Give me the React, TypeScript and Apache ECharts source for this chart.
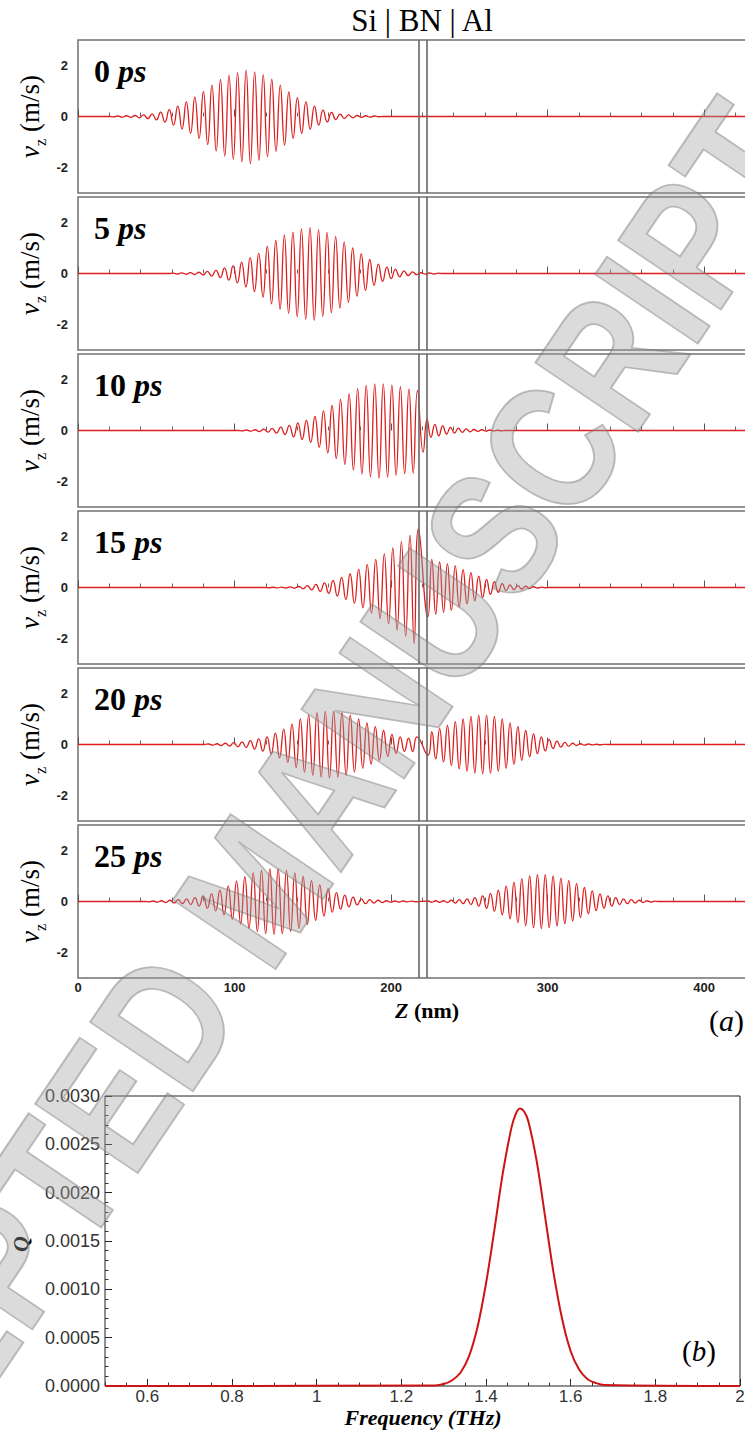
import React, { useEffect, useRef } from 'react';
import * as echarts from 'echarts';

// ---------- data ----------
const Z_MAX = 428; // nm, right edge of panels (a)
const INTERFACES = [217.8, 222.5]; // Si|BN and BN|Al interfaces (nm)
const TIMES = ['0', '5', '10', '15', '20', '25']; // ps
const Z_TICK_STEP = 100;

// signed extrema of v_z (m/s); successive extrema are `step` nm apart
const V0 = [-0.015, 0.02, -0.025, 0.03, -0.035, 0.04, -0.05, 0.06, -0.08, 0.1, -0.13, 0.17, -0.22, 0.27, -0.34, 0.41, -0.49, 0.57, -0.66, 0.76, -0.86, 0.97, -1.1, 1.23, -1.35, 1.45, -1.55, 1.62, -1.68, 1.72, -1.78,
  1.82, -1.85, 1.75, -1.72, 1.64, -1.58, 1.46, -1.37, 1.23, -1.12, 0.96, -0.86, 0.74, -0.66, 0.57, -0.5, 0.41, -0.34, 0.25, -0.21, 0.16, -0.12, 0.09, -0.075, 0.06, -0.05, 0.04, -0.035, 0.03, -0.025, 0.02, -0.01];
const V1 = [0.015, -0.02, 0.025, -0.03, 0.035, -0.04, 0.05, -0.06, 0.08, -0.1, 0.12, -0.16, 0.22, -0.26, 0.3, -0.37, 0.45, -0.53, 0.62, -0.71, 0.8, -0.93, 1.07, -1.19, 1.3, -1.4, 1.5, -1.56, 1.62, -1.69, 1.75, -1.8,
  1.8, -1.84, 1.72, -1.68, 1.6, -1.54, 1.45, -1.36, 1.24, -1.13, 1.0, -0.89, 0.78, -0.66, 0.55, -0.46, 0.37, -0.31, 0.25, -0.2, 0.16, -0.13, 0.1, -0.08, 0.06, -0.045, 0.03, -0.025, 0.02, -0.02, 0.015];
const V2_SI = [-0.015, 0.02, -0.025, 0.03, -0.04, 0.05, -0.065, 0.08, -0.1, 0.13, -0.16, 0.2, -0.25, 0.3, -0.35, 0.4, -0.47, 0.55, -0.66, 0.77, -0.88, 0.98, -1.1, 1.22, -1.33, 1.44, -1.55, 1.64, -1.71, 1.77, -1.81, 1.83,
  -1.88, 1.83, -1.84, 1.79, -1.76, 1.72, -1.7, 1.63, -1.67, 1.57];
const V2_AL = [-0.85, 0.45, -0.27, 0.24, -0.21, 0.18, -0.14, 0.12, -0.1, 0.09, -0.07, 0.06, -0.05, 0.04, -0.035, 0.03, -0.025, 0.02, -0.015, 0.01, -0.01];
const V3_SI = [-0.01, 0.01, -0.015, 0.015, -0.02, 0.025, -0.03, 0.04, -0.05, 0.07, -0.09, 0.12, -0.15, 0.18, -0.23, 0.28, -0.34, 0.4, -0.47, 0.54, -0.62, 0.71, -0.8, 0.9, -1.0, 1.1, -1.22, 1.32, -1.43, 1.55, -1.68, 1.8, -1.92, 2.05, -2.2, 2.3];
const V3_AL = [-1.15, 1.1, -1.05, 1.0, -0.97, 0.93, -0.89, 0.85, -0.77, 0.7, -0.64, 0.58, -0.52, 0.45, -0.39, 0.32, -0.27, 0.23, -0.19, 0.15, -0.12, 0.1, -0.085, 0.07, -0.06, 0.05, -0.04, 0.03, -0.02, 0.015, -0.01];
const V4_SI = [0.02, -0.025, 0.03, -0.04, 0.05, -0.06, 0.07, -0.085, 0.1, -0.12, 0.15, -0.18, 0.22, -0.26, 0.3, -0.37, 0.45, -0.52, 0.6, -0.7, 0.8, -0.9, 1.0, -1.08, 1.15, -1.21, 1.25, -1.28, 1.3, -1.31, 1.3, -1.28, 1.25, -1.21, 1.15, -1.08, 1.0, -0.93, 0.85, -0.78, 0.7, -0.62, 0.55, -0.47, 0.4, -0.35, 0.3, -0.27, 0.25, -0.27, 0.3];
const V4_AL = [-0.42, 0.5, -0.56, 0.62, -0.68, 0.75, -0.82, 0.9, -0.95, 1.0, -1.05, 1.1, -1.12, 1.15, -1.15, 1.15, -1.13, 1.1, -1.05, 1.0, -0.93, 0.85, -0.78, 0.7, -0.62, 0.55, -0.48, 0.42, -0.36, 0.3, -0.25, 0.2, -0.16, 0.13, -0.1, 0.08, -0.065, 0.05, -0.04, 0.03, -0.025, 0.02, -0.015, 0.01, -0.01, 0.005];
const V5_SI = [-0.015, 0.02, -0.025, 0.03, -0.04, 0.05, -0.06, 0.07, -0.085, 0.1, -0.12, 0.15, -0.18, 0.22, -0.26, 0.3, -0.37, 0.45, -0.52, 0.6, -0.7, 0.8, -0.88, 0.97, -1.05, 1.12, -1.17, 1.22, -1.26, 1.28, -1.29, 1.28, -1.26, 1.22, -1.17, 1.12, -1.05, 0.98, -0.9, 0.82, -0.74, 0.65, -0.57, 0.5, -0.42, 0.35, -0.3, 0.25, -0.21, 0.17, -0.13, 0.1, -0.085, 0.07, -0.06, 0.05, -0.04, 0.03, -0.025, 0.02, -0.02, 0.02, -0.015, 0.015, -0.01];
const V5_AL = [0.02, -0.025, 0.03, -0.03, 0.03, -0.04, 0.05, -0.06, 0.07, -0.085, 0.1, -0.12, 0.15, -0.18, 0.22, -0.27, 0.32, -0.38, 0.45, -0.52, 0.6, -0.68, 0.75, -0.83, 0.9, -0.95, 1.0, -1.03, 1.05, -1.06, 1.05, -1.03, 1.0, -0.96, 0.92, -0.87, 0.82, -0.76, 0.7, -0.63, 0.55, -0.48, 0.42, -0.36, 0.3, -0.26, 0.22, -0.18, 0.15, -0.12, 0.1, -0.085, 0.07, -0.06, 0.05, -0.04, 0.03, -0.02, 0.015];

// packet: first extremum position (nm), spacing between extrema (nm), signed extrema
const PANEL_0 = [{ start: 22.77, step: 2.73, values: V0 }];
const PANEL_5 = [{ start: 60.84, step: 2.73, values: V1 }];
const PANEL_10 = [{ start: 104.94, step: 2.73, values: V2_SI }, { start: 220.5, step: 2.5, values: V2_AL }];
const PANEL_15 = [{ start: 121.95, step: 2.73, values: V3_SI }, { start: 223.5, step: 2.5, values: V3_AL }];
const PANEL_20 = [{ start: 83.5, step: 2.66, values: V4_SI }, { start: 223.5, step: 2.5, values: V4_AL }];
const PANEL_25 = [{ start: 45.4, step: 2.66, values: V5_SI }, { start: 223.5, step: 2.5, values: V5_AL }];
const PANELS = [PANEL_0, PANEL_5, PANEL_10, PANEL_15, PANEL_20, PANEL_25];

// (b) spectrum
const FREQ = [0.5, 1.28, 1.3, 1.32, 1.34, 1.36, 1.38, 1.4, 1.42, 1.44, 1.46, 1.47, 1.48, 1.49, 1.5, 1.52, 1.54, 1.56, 1.58, 1.6, 1.62, 1.64, 1.66, 1.68, 2.0];
const Q = [0, 0.000005, 0.00002, 0.00006, 0.00014, 0.00031, 0.00061, 0.00106, 0.00162, 0.00221, 0.00267, 0.00281, 0.00287, 0.00284, 0.00274, 0.00232, 0.00174, 0.00116, 0.00069, 0.00036, 0.00017, 0.00007, 0.00003, 0.00001, 0];
const F_LABELS = [0.6, 0.8, 1, 1.2, 1.4, 1.6, 1.8, 2];

// ---------- layout ----------
const W = 745;
const H = 1430;
const T0 = 40;
const PSTEP = 157;
const PH = 153;
const RED = '#dc1e1e';
const SERIF = 'Liberation Serif';
const SANS = 'Liberation Sans';

function buildPanel(packets: { start: number; step: number; values: number[] }[]) {
  const pts: number[][] = [[0, 0]];
  const first = packets[0];
  pts.push([first.start - first.step, 0]);
  packets.forEach((p) => p.values.forEach((v, i) => pts.push([+(p.start + i * p.step).toFixed(3), v])));
  const last = packets[packets.length - 1];
  pts.push([last.start + last.values.length * last.step, 0]);
  pts.push([Z_MAX, 0]);
  return pts;
}

function buildOption() {
  const grid: any[] = [];
  const xAxis: any[] = [];
  const yAxis: any[] = [];
  const series: any[] = [];
  const graphic: any[] = [];

  PANELS.forEach((packets, i) => {
    grid.push({ left: 78, right: -3, top: T0 + PSTEP * i, height: PH, show: true, borderColor: '#707070', borderWidth: 1.5, containLabel: false, outerBoundsMode: 'none' });
    xAxis.push({
      type: 'value', gridIndex: i, min: 0, max: Z_MAX, interval: Z_TICK_STEP,
      axisLine: { show: false },
      axisTick: { show: true, inside: true, length: 7, lineStyle: { color: '#555', width: 1 } },
      minorTick: { show: true, splitNumber: 5, length: 4, lineStyle: { color: '#666', width: 1 } },
      splitLine: { show: false },
      axisLabel: { show: i === PANELS.length - 1, showMaxLabel: false, fontFamily: SANS, fontSize: 13, fontWeight: 'bold', color: '#222', margin: 3 },
    });
    yAxis.push({
      type: 'value', gridIndex: i, min: -3, max: 3, interval: 1,
      axisLine: { show: false }, axisTick: { show: false }, splitLine: { show: false },
      axisLabel: {
        formatter: (v: number) => (Math.abs(v) % 2 === 0 ? String(v) : ''),
        fontFamily: SANS, fontSize: 13, fontWeight: 'bold', color: '#222', margin: 10,
      },
    });
    series.push({
      type: 'line', xAxisIndex: i, yAxisIndex: i, data: buildPanel(packets),
      showSymbol: false, smooth: 0.5, lineStyle: { color: RED, width: 1.3 }, silent: true,
      markLine: {
        silent: true, symbol: ['none', 'none'], label: { show: false },
        lineStyle: { color: '#666', width: 1.6, type: 'solid' },
        data: INTERFACES.map((z) => ({ xAxis: z })),
      },
    });
    const top = T0 + PSTEP * i;
    graphic.push({
      type: 'text', x: 94, y: top + 31,
      style: {
        text: `{n|${TIMES[i]} }{p|ps}`,
        rich: {
          n: { fontFamily: SERIF, fontWeight: 'bold', fontSize: 32, fill: '#000' },
          p: { fontFamily: SERIF, fontWeight: 'bold', fontStyle: 'italic', fontSize: 32, fill: '#000' },
        },
        align: 'left', verticalAlign: 'middle', textAlign: 'left', textVerticalAlign: 'middle',
      },
    });
    graphic.push({
      type: 'text', x: 30, y: top + PH / 2, rotation: Math.PI / 2,
      style: {
        text: '{v|v}{z|z}{u| (m/s)}',
        rich: {
          v: { fontFamily: SERIF, fontStyle: 'italic', fontSize: 27, lineHeight: 36, verticalAlign: 'middle', fill: '#000' },
          z: { fontFamily: SERIF, fontSize: 16, lineHeight: 16, verticalAlign: 'bottom', fill: '#000' },
          u: { fontFamily: SERIF, fontSize: 27, lineHeight: 36, verticalAlign: 'middle', fill: '#000' },
        },
        align: 'center', verticalAlign: 'middle', textAlign: 'center', textVerticalAlign: 'middle',
      },
    });
  });

  // (b)
  const gb = PANELS.length;
  grid.push({ left: 105, right: 5, top: 1096, height: 290, show: true, borderColor: '#222', borderWidth: 1, containLabel: false, outerBoundsMode: 'none' });
  xAxis.push({
    type: 'value', gridIndex: gb, min: 0.5, max: 2,
    axisLine: { show: false },
    axisTick: { show: true, inside: true, length: 7, customValues: F_LABELS, lineStyle: { color: '#222' } },
    splitLine: { show: false },
    axisLabel: { customValues: F_LABELS, fontFamily: SANS, fontSize: 17, lineHeight: 15, color: '#333', margin: 3, formatter: (v: number) => String(+v.toFixed(1)) },
  });
  xAxis.push({
    type: 'value', gridIndex: gb, min: 0.5, max: 2, interval: 0.05, position: 'bottom',
    axisLine: { show: false },
    axisTick: { show: true, inside: true, length: 3.5, lineStyle: { color: '#333' } },
    splitLine: { show: false }, axisLabel: { show: false },
  });
  yAxis.push({
    type: 'value', gridIndex: gb, min: 0, max: 0.003, interval: 0.0005,
    axisLine: { show: false },
    axisTick: { show: true, inside: true, length: 7, lineStyle: { color: '#222' } },
    minorTick: { show: true, splitNumber: 5, length: 3.5, lineStyle: { color: '#333' } },
    splitLine: { show: false },
    axisLabel: { fontFamily: SANS, fontSize: 18, color: '#333', margin: 5, formatter: (v: number) => v.toFixed(4) },
  });
  series.push({
    type: 'line', xAxisIndex: gb, yAxisIndex: gb, data: FREQ.map((f, i) => [f, Q[i]]),
    showSymbol: false, smooth: 0.35, clip: false, lineStyle: { color: '#cc1414', width: 2 }, silent: true,
  });

  const txt = (x: number, y: number, text: string, rich: any, extra: any = {}) => ({
    type: 'text', x, y, ...extra,
    style: { text, rich, align: extra.align || 'center', verticalAlign: 'middle', textAlign: extra.align || 'center', textVerticalAlign: 'middle' },
  });

  graphic.push(txt(422, 20, '{a|Si | BN | Al}', { a: { fontFamily: SERIF, fontSize: 31, fill: '#000' } }));
  graphic.push(txt(427, 1010, '{z|Z}{n| (nm)}', {
    z: { fontFamily: SERIF, fontWeight: 'bold', fontStyle: 'italic', fontSize: 22, fill: '#000' },
    n: { fontFamily: SERIF, fontWeight: 'bold', fontSize: 22, fill: '#000' },
  }));
  graphic.push({ ...txt(744, 1020, '{p|(}{a|a}{p|)}', {
    p: { fontFamily: SERIF, fontSize: 30, fill: '#000' },
    a: { fontFamily: SERIF, fontStyle: 'italic', fontSize: 30, fill: '#000' },
  }, { align: 'right' }) });
  graphic.push(txt(699, 1351, '{p|(}{a|b}{p|)}', {
    p: { fontFamily: SERIF, fontSize: 29, fill: '#000' },
    a: { fontFamily: SERIF, fontStyle: 'italic', fontSize: 29, fill: '#000' },
  }));
  graphic.push(txt(423, 1417, '{f|Frequency (THz)}', { f: { fontFamily: SERIF, fontWeight: 'bold', fontStyle: 'italic', fontSize: 22, lineHeight: 22, fill: '#000' } }));
  graphic.push(txt(20, 1244, '{q|Q}', { q: { fontFamily: SERIF, fontWeight: 'bold', fontStyle: 'italic', fontSize: 22, fill: '#000' } }, { rotation: Math.PI / 2 }));

  // watermark
  graphic.push({
    type: 'text', x: 255, y: 888, rotation: (56 * Math.PI) / 180, scaleX: 0.82, silent: true, z: 100,
    style: {
      text: 'ACCEPTED MANUSCRIPT', fontFamily: SANS, fontWeight: 'bold', fontSize: 180,
      fill: 'rgba(160,160,160,0.38)', stroke: 'rgba(110,110,110,0.45)', lineWidth: 2,
      align: 'center', verticalAlign: 'middle', textAlign: 'center', textVerticalAlign: 'middle',
    },
  });

  return { animation: false, backgroundColor: '#fff', grid, xAxis, yAxis, series, graphic };
}

export default function App() {
  const ref = useRef<HTMLDivElement>(null);
  useEffect(() => {
    if (!ref.current) return;
    const chart = echarts.init(ref.current, undefined, { renderer: 'svg' });
    chart.setOption(buildOption() as any);
    return () => chart.dispose();
  }, []);
  return <div ref={ref} style={{ position: 'absolute', left: 0, top: 0, width: W, height: H }} />;
}
